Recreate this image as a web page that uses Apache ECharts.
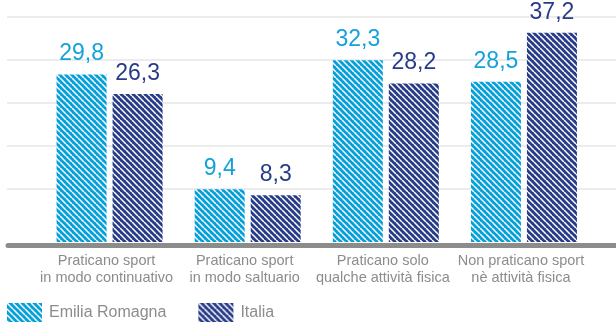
<!DOCTYPE html>
<html>
<head>
<meta charset="utf-8">
<script src="https://cdn.jsdelivr.net/npm/echarts@6/dist/echarts.min.js"></script>
<style>
html,body{margin:0;padding:0;background:#fff;}
#c{width:616px;height:323px;}
</style>
</head>
<body>
<div id="c"></div>
<script>
const categories = [
  'Praticano sport\nin modo continuativo',
  'Praticano sport\nin modo saltuario',
  'Praticano solo\nqualche attività fisica',
  'Non praticano sport\nnè attività fisica'
];
const seriesNames = ['Emilia Romagna', 'Italia'];
const emiliaValues = [29.8, 9.4, 32.3, 28.5];
const italiaValues = [26.3, 8.3, 28.2, 37.2];
const gridTicks = [0, 1, 2, 3, 4];

const FONT = '"Liberation Sans", Arial, sans-serif';
const CYAN = '#06a0d8';
const NAVY = '#283b88';
const GRAY_TEXT = '#8c8c8c';

function stripe(bg) {
  const s = 6;
  const cv = document.createElement('canvas');
  cv.width = s; cv.height = s;
  const ctx = cv.getContext('2d');
  ctx.fillStyle = bg;
  ctx.fillRect(0, 0, s, s);
  ctx.strokeStyle = '#ffffff';
  ctx.lineWidth = 1.5;
  for (let k = -1; k <= 1; k++) {
    ctx.beginPath();
    ctx.moveTo(k * s, 0);
    ctx.lineTo(k * s + s, s);
    ctx.stroke();
  }
  return { image: cv, repeat: 'repeat' };
}

const fmt = p => String(p.value).replace('.', ',');

const chart = echarts.init(document.getElementById('c'), null, { renderer: 'canvas' });
chart.setOption({
  animation: false,
  backgroundColor: '#ffffff',
  grid: [
    { left: 40.5, right: 23, top: 17, bottom: 81 },
    { left: 7, right: 0, top: 17, height: 172 },
    { left: 8, right: 0, top: 17, bottom: 77.5 }
  ],
  legend: {
    left: 7, top: 303, padding: 0,
    itemWidth: 35, itemHeight: 19, itemGap: 32,
    icon: 'rect',
    data: seriesNames,
    textStyle: { fontFamily: FONT, fontSize: 16, color: GRAY_TEXT, padding: [0, 0, 0, 2] }
  },
  xAxis: [
    {
      gridIndex: 0, type: 'category', data: categories,
      axisLine: { show: false }, axisTick: { show: false },
      axisLabel: {
        margin: 11, interval: 0,
        fontFamily: FONT, fontSize: 14.5, lineHeight: 16.5, color: GRAY_TEXT,
        padding: [0, 6, 0, 0]
      }
    },
    { gridIndex: 1, type: 'value', show: false },
    {
      gridIndex: 2, type: 'category', data: ['a'],
      axisLine: { show: true, lineStyle: { color: '#8c8c8c', width: 5 } },
      axisTick: { show: false }, axisLabel: { show: false }
    }
  ],
  yAxis: [
    { gridIndex: 0, type: 'value', min: 0, max: 40, show: false },
    {
      gridIndex: 1, type: 'value', min: gridTicks[0], max: gridTicks[gridTicks.length - 1], interval: 1,
      axisLine: { show: false }, axisTick: { show: false }, axisLabel: { show: false },
      splitLine: { show: true, lineStyle: { color: '#e6e6e6', width: 1.5 } }
    },
    { gridIndex: 2, type: 'value', show: false }
  ],
  series: [
    {
      name: seriesNames[0], type: 'bar', xAxisIndex: 0, yAxisIndex: 0,
      data: emiliaValues, barWidth: 50, barGap: '12%',
      itemStyle: { color: stripe(CYAN) },
      label: { show: true, position: 'top', distance: 9, formatter: fmt,
        fontFamily: FONT, fontSize: 23, color: '#14a2da' }
    },
    {
      name: seriesNames[1], type: 'bar', xAxisIndex: 0, yAxisIndex: 0,
      data: italiaValues, barWidth: 50, barGap: '12%',
      itemStyle: { color: stripe(NAVY) },
      label: { show: true, position: 'top', distance: 9, formatter: fmt,
        fontFamily: FONT, fontSize: 23, color: NAVY }
    }
  ]
});
</script>
</body>
</html>
